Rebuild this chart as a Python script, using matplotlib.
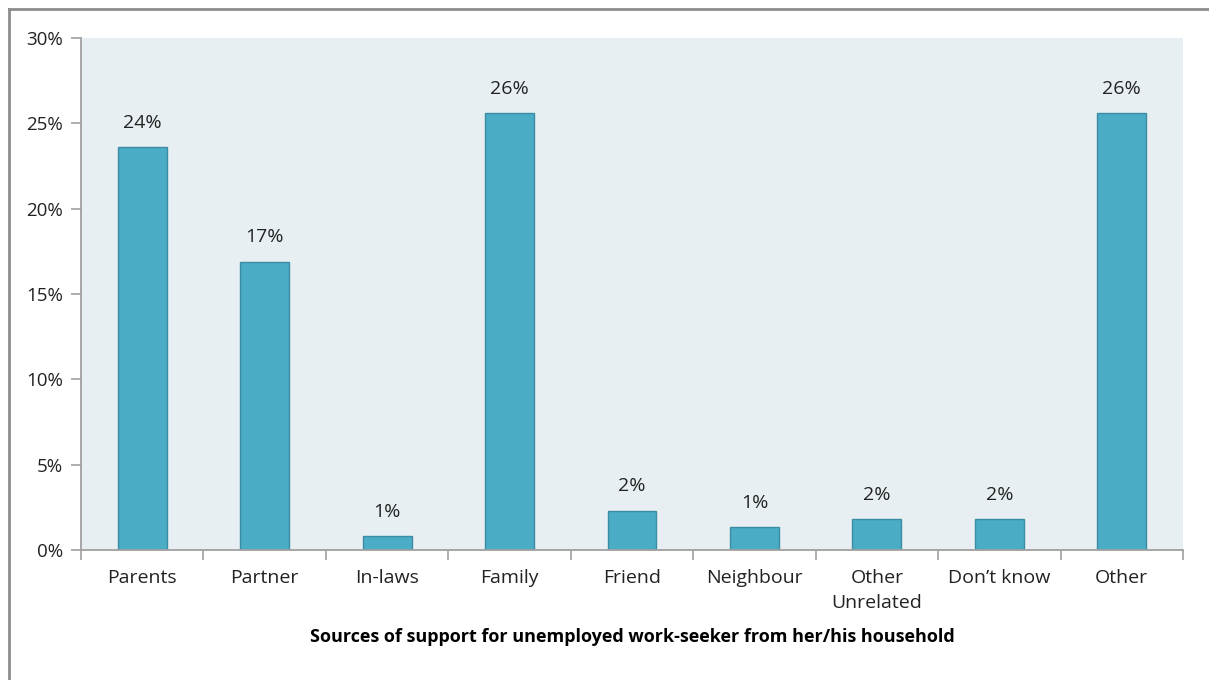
import matplotlib
matplotlib.use("Agg")
import matplotlib.pyplot as plt
from matplotlib.lines import Line2D

categories = ["Parents", "Partner", "In-laws", "Family", "Friend", "Neighbour",
              "Other\nUnrelated", "Don\u2019t know", "Other"]
values = [23.6, 16.9, 0.8, 25.6, 2.3, 1.35, 1.8, 1.8, 25.6]
labels = ["24%", "17%", "1%", "26%", "2%", "1%", "2%", "2%", "26%"]
yticks = [0, 5, 10, 15, 20, 25, 30]
xlabel = "Sources of support for unemployed work-seeker from her/his household"

plt.rcParams['font.family'] = ['Open Sans', 'DejaVu Sans']

W, H = 1209, 680
fig = plt.figure(figsize=(W/100, H/100), dpi=100)
fig.patch.set_facecolor("white")
ax = fig.add_axes([81/W, 1-550/H, (1183-81)/W, (550-38)/H])
ax.set_facecolor("#E8EFF3")

x = list(range(len(categories)))
ax.bar(x, values, width=0.40, color="#4BACC6", edgecolor="#3B8CA3", linewidth=1.0, zorder=2)
for xi, v, lab in zip(x, values, labels):
    ax.annotate(lab, (xi, v), xytext=(0, 14), textcoords="offset points",
                ha="center", va="baseline", fontsize=14, color="#222222")

ax.set_xlim(-0.5, len(categories) - 0.5)
ax.set_ylim(0, 30)
ax.set_yticks(yticks)
ax.set_yticklabels([f"{t}%" for t in yticks], fontsize=13.5, color="#222222")
ax.set_xticks(x)
ax.set_xticklabels(categories, fontsize=14, color="#222222", linespacing=1.45)
ax.tick_params(axis="x", length=0, pad=14)
ax.set_xticks([i + 0.5 for i in range(-1, len(categories))], minor=True)
ax.tick_params(axis="x", which="minor", length=7, color="#A0A0A0", width=1.2)
ax.tick_params(axis="y", length=7, color="#A0A0A0", width=1.2, pad=6)

for s in ["top", "right"]:
    ax.spines[s].set_visible(False)
for s in ["left", "bottom"]:
    ax.spines[s].set_color("#A0A0A0")
    ax.spines[s].set_linewidth(1.3)

fig.text(632/W, 1-637/H, xlabel, ha="center", va="center", fontsize=13,
         fontweight="bold", color="#000000")

# outer frame (left and top edges visible)
fig.add_artist(Line2D([9/W, 9/W], [0, 1-9/H], transform=fig.transFigure, color="#8C8C8C", linewidth=2))
fig.add_artist(Line2D([9/W, 1], [1-9/H, 1-9/H], transform=fig.transFigure, color="#8C8C8C", linewidth=2))

fig.savefig("out.png", dpi=100)
